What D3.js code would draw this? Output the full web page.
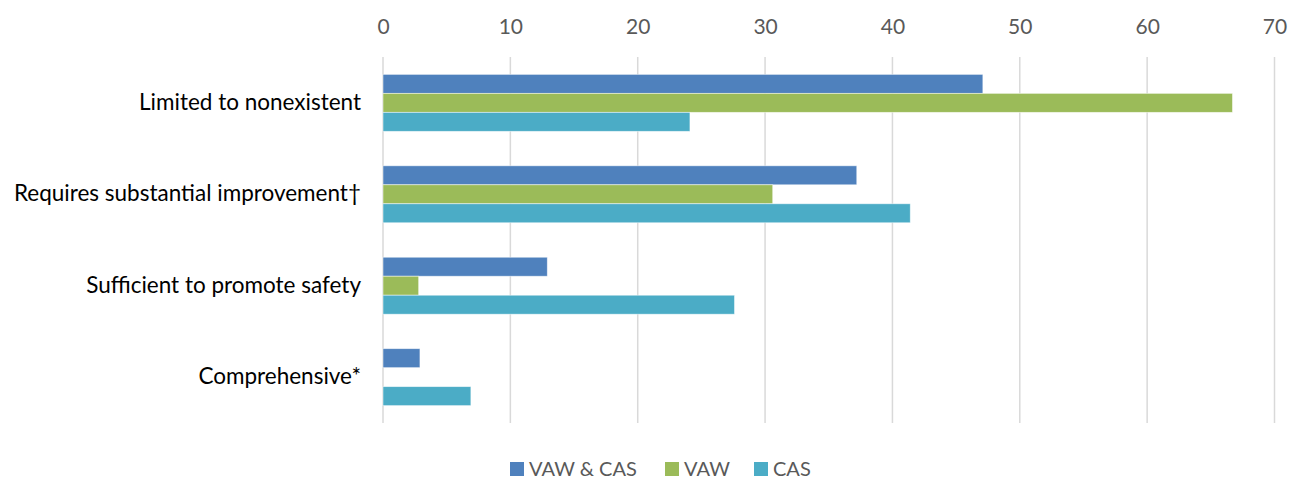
<!DOCTYPE html>
<html>
<head>
<meta charset="utf-8">
<script src="https://cdn.jsdelivr.net/npm/d3@7"></script>
<style>
  body { margin: 0; background: #fff; }
  svg { display: block; font-family: Lato, "Open Sans", sans-serif; }
</style>
</head>
<body>
<div id="chart"></div>
<script>
// categories, top to bottom
var categories = ["Limited to nonexistent", "Requires substantial improvement\u2020", "Sufficient to promote safety", "Comprehensive*"];
var seriesNames = ["VAW & CAS", "VAW", "CAS"];
var seriesColors = ["#4F81BD", "#9BBB59", "#4BACC6"];
var vawCas = [47.1, 37.2, 12.9, 2.9];
var vaw = [66.7, 30.6, 2.8, 0];
var cas = [24.1, 41.4, 27.6, 6.9];
var xTicks = [0, 10, 20, 30, 40, 50, 60, 70];

var W = 1289, H = 482;
var margin = {top: 57, right: 15, bottom: 59, left: 383};
var width = W - margin.left - margin.right;
var height = H - margin.top - margin.bottom;

var seriesValues = [vawCas, vaw, cas];
var rows = [];
categories.forEach(function (c, i) {
    seriesNames.forEach(function (s, j) {
        rows.push({cat: c, series: s, value: seriesValues[j][i], color: seriesColors[j]});
    });
});

var svg = d3.select("#chart").append("svg")
    .attr("width", W)
    .attr("height", H);

var g = svg.append("g").attr("transform", "translate(" + margin.left + "," + margin.top + ")");

var x = d3.scaleLinear().domain([0, 70]).range([0, 891.5]);
var y0 = d3.scaleBand().domain(categories).range([0, height]).paddingInner(0.377).paddingOuter(0.19);
var y1 = d3.scaleBand().domain(seriesNames).range([0, y0.bandwidth()]);

// gridlines
g.selectAll(".grid")
    .data(xTicks)
    .enter().append("line")
    .attr("class", "grid")
    .attr("x1", function (d) { return x(d); })
    .attr("x2", function (d) { return x(d); })
    .attr("y1", 0)
    .attr("y2", height)
    .style("stroke", "#d9d9d9")
    .style("stroke-width", 1.5);

// top axis labels
var xAxis = g.append("g")
    .call(d3.axisTop(x).tickValues(xTicks).tickSize(0).tickPadding(0));
xAxis.select(".domain").remove();
xAxis.selectAll("text")
    .attr("y", -30)
    .attr("dy", "0.35em")
    .style("font-family", "Lato, sans-serif")
    .style("font-size", "21px")
    .style("fill", "#595959");

// category labels
var yAxis = g.append("g")
    .call(d3.axisLeft(y0).tickSize(0).tickPadding(22));
yAxis.select(".domain").remove();
yAxis.selectAll("text")
    .style("font-family", "Lato, sans-serif")
    .style("font-size", "22.5px")
    .style("fill", "#000");

// bars
g.selectAll(".bar")
    .data(rows)
    .enter().append("rect")
    .attr("class", "bar")
    .attr("x", x(0))
    .attr("y", function (d) { return y0(d.cat) + y1(d.series); })
    .attr("width", function (d) { return x(d.value) - x(0); })
    .attr("height", y1.bandwidth())
    .style("fill", function (d) { return d.color; })
    .style("stroke", "#ffffff")
    .style("stroke-opacity", function (d) { return d.value > 0 ? 0.6 : 0; })
    .style("stroke-width", 0.8);

// legend
var legend = svg.append("g").attr("transform", "translate(510,462)");
var legendX = [0, 155, 244];
var items = legend.selectAll(".item")
    .data(seriesNames)
    .enter().append("g")
    .attr("class", "item")
    .attr("transform", function (d, i) { return "translate(" + legendX[i] + ",0)"; });
items.append("rect")
    .attr("width", 14)
    .attr("height", 14)
    .style("fill", function (d, i) { return seriesColors[i]; });
items.append("text")
    .attr("x", 19)
    .attr("y", 7)
    .attr("dy", "0.35em")
    .style("font-size", "20px")
    .style("fill", "#595959")
    .text(function (d) { return d; });
</script>
</body>
</html>
